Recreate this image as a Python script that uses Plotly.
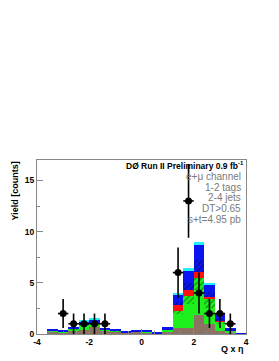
import plotly.graph_objects as go

# Bin centers (width 0.4, -4..4)
bin_centers = [-3.8, -3.4, -3.0, -2.6, -2.2, -1.8, -1.4, -1.0, -0.6, -0.2,
               0.2, 0.6, 1.0, 1.4, 1.8, 2.2, 2.6, 3.0, 3.4, 3.8]

# Stacked background components (per-bin increments)
brown = [0, 0.2, 0.15, 0.25, 0.4, 0.7, 0.3, 0.2, 0.15, 0.2, 0.15, 0.05, 0.25, 0.55, 0.6, 1.9, 1.0, 0.3, 0.1, 0]
green = [0, 0.1, 0.05, 0.2, 0.4, 0.3, 0.1, 0.05, 0.02, 0.05, 0.05, 0.02, 0.15, 1.5, 2.3, 2.4, 1.5, 0.7, 0.2, 0]
green_hatched = [0, 0.03, 0.03, 0.05, 0.1, 0.1, 0.05, 0.05, 0, 0.03, 0.03, 0, 0.05, 0.15, 0.8, 1.15, 0.9, 0.2, 0.05, 0]
red = [0, 0.01, 0.01, 0.02, 0.05, 0.05, 0.02, 0.01, 0, 0.01, 0.01, 0, 0.03, 0.6, 0.6, 0.65, 0.25, 0.1, 0.02, 0]
blue_hatched = [0, 0.01, 0.02, 0.03, 0.1, 0.1, 0.03, 0.02, 0, 0.01, 0.01, 0, 0.05, 0.3, 0.7, 1.15, 0.5, 0.2, 0.03, 0]
blue = [0, 0.05, 0.09, 0.15, 0.2, 0.17, 0.05, 0.07, 0.03, 0.05, 0.05, 0.03, 0.12, 0.7, 1.2, 1.45, 0.65, 0.5, 0.1, 0.05]
cyan = [0, 0, 0, 0, 0.05, 0.05, 0, 0, 0, 0, 0, 0, 0, 0.2, 0.25, 0.25, 0.17, 0.05, 0, 0]

# Data points
data_x = [-3.0, -2.6, -2.2, -1.8, -1.4, 1.4, 1.8, 2.2, 2.6, 3.0, 3.4]
data_y = [2, 1, 1, 1, 1, 6, 13, 4, 2, 2, 1]
data_err = [1.41, 1.0, 1.0, 1.0, 1.0, 2.45, 3.6, 2.0, 1.41, 1.41, 1.0]

y_ticks = [0, 5, 10, 15]
x_ticks = [-4, -2, 0, 2, 4]

fig = go.Figure()

layers = [
    (brown, "#8c7262", None),
    (green, "#1ef01e", None),
    (green_hatched, "#1ef01e", "/"),
    (red, "#ff1010", None),
    (blue_hatched, "#0a14f0", "/"),
    (blue, "#0a14f0", None),
    (cyan, "#20f0f8", None),
]
for vals, col, pat in layers:
    marker = dict(color=col, line=dict(width=0))
    if pat:
        marker["pattern"] = dict(shape=pat, fgcolor="black", bgcolor=col,
                                 size=4, solidity=0.25, fillmode="overlay")
    fig.add_trace(go.Bar(x=bin_centers, y=vals, width=0.4, marker=marker,
                         showlegend=False, hoverinfo="skip"))

fig.add_trace(go.Scatter(
    x=data_x, y=data_y, mode="markers",
    marker=dict(color="black", size=7, symbol="circle"),
    error_y=dict(type="data", array=data_err, color="black", thickness=1.6, width=0),
    error_x=dict(type="constant", value=0.2, color="black", thickness=1.6, width=0),
    showlegend=False))

font_b = "Liberation Sans"
tickfont = dict(family=font_b, size=8.5, color="black", weight="bold")
fig.update_layout(
    width=271, height=353,
    margin=dict(l=29, r=33, t=152, b=27),
    paper_bgcolor="white", plot_bgcolor="white",
    barmode="stack", bargap=0,
    font=dict(family=font_b, size=10, color="black"),
    xaxis=dict(range=[-4, 4], tickvals=x_ticks, ticktext=[str(v) for v in x_ticks],
               automargin=False,
               showgrid=False, zeroline=False, showline=True, linecolor="#888",
               linewidth=1, mirror=True, ticks="inside", ticklen=5,
               tickcolor="#888", tickfont=tickfont,
               minor=dict(dtick=0.5, ticks="inside", ticklen=3, tickcolor="#888")),
    yaxis=dict(range=[0, 17], tickvals=y_ticks, ticktext=[str(v) for v in y_ticks],
               automargin=False,
               showgrid=False, zeroline=False, showline=True, linecolor="#888",
               linewidth=1, mirror=True, ticks="inside", ticklen=6,
               tickcolor="#888",
               minor=dict(tickvals=[2.5, 7.5, 12.5], ticks="inside", ticklen=3, tickcolor="#888"),
               tickfont=tickfont),
)

fig.add_annotation(xref="paper", yref="paper", x=1.0, y=0.967, xanchor="right",
                   yanchor="middle", showarrow=False,
                   text="<b>DØ Run II Preliminary 0.9 fb<sup>-1</sup></b>",
                   font=dict(family=font_b, size=8.5, color="black"))
lines = ["e+μ channel", "1-2 tags", "2-4 jets", "DT&gt;0.65", "s+t=4.95 pb"]
ys = [0.908, 0.843, 0.784, 0.72, 0.66]
for t, yy in zip(lines, ys):
    fig.add_annotation(xref="paper", yref="paper", x=0.985, y=yy, xanchor="right",
                       yanchor="middle", showarrow=False, text=t,
                       font=dict(family=font_b, size=10, color="#7a7a7a"))

fig.add_annotation(xref="paper", yref="paper", x=-0.11, y=1.0, xanchor="center",
                   yanchor="top", showarrow=False, textangle=-90,
                   text="<b>Yield [counts]</b>",
                   font=dict(family=font_b, size=9, color="black"))
fig.add_annotation(xref="paper", yref="paper", x=1.0, y=-0.086, xanchor="right",
                   yanchor="middle", showarrow=False, text="<b>Q x η</b>",
                   font=dict(family=font_b, size=9, color="black"))

fig.write_html("out.html")
